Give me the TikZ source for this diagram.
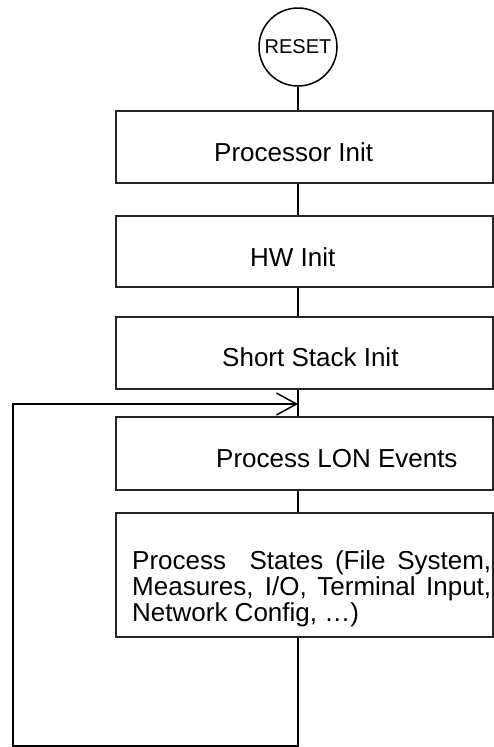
\documentclass[tikz,border=0pt]{standalone}
\usepackage{fontspec}
\setmainfont{Liberation Sans}
\usetikzlibrary{arrows.meta}
\begin{document}
\begin{tikzpicture}[x=1pt,y=-1pt,
  box/.style={draw=black!85, line width=1.2pt, rectangle, inner sep=0pt, minimum width=377pt},
  lbl/.style={anchor=base west, inner sep=0pt, font=\fontsize{26}{30}\selectfont},
  wire/.style={line width=1.5pt},
  barb/.style={-{Straight Barb[length=20pt,width=22pt,line width=1.5pt]}}]
\useasboundingbox (0,0) rectangle (494,747);

% start terminal
\node[draw, circle, line width=1.5pt, minimum size=78pt, inner sep=0pt,
      font=\fontsize{20}{24}\selectfont] (reset) at (298,47) {RESET};

% process boxes
\node[box, minimum height=72pt]  (proc)   at (304.5,147)   {};
\node[box, minimum height=71pt]  (hw)     at (304.5,251.5) {};
\node[box, minimum height=72pt]  (stack)  at (304.5,353)   {};
\node[box, minimum height=73pt]  (lon)    at (304.5,453.5) {};
\node[box, minimum height=124pt] (states) at (304.5,575)   {};

% box texts
\node[lbl] (tproc)  at (214,161) {Processor Init};
\node[lbl] (thw)    at (250,266) {HW Init};
\node[lbl] (tstack) at (222,366) {Short Stack Init};
\node[lbl] (tlon)   at (216,467) {Process LON Events};
\node[lbl] (ts1) at (132,569) {\makebox[359pt][s]{Process\ \ States (File System,}};
\node[lbl] (ts2) at (132,595) {\makebox[359pt][s]{Measures, I/O, Terminal Input,}};
\node[lbl] (ts3) at (132,621) {Network Config, …)};

% connectors
\coordinate (join) at (298,404);
\coordinate (br) at (298,746);
\coordinate (bl) at (13,746);
\draw[wire] (reset.south) -- (reset.south |- proc.north);
\draw[wire] (proc.south -| join) -- (hw.north -| join);
\draw[wire] (hw.south -| join) -- (stack.north -| join);
\draw[wire] (stack.south -| join) -- (lon.north -| join);
\draw[wire] (lon.south -| join) -- (states.north -| join);
\draw[wire, barb] (states.south -| join) -- (br) -- (bl) -- (bl |- join) -- (join);
\end{tikzpicture}
\end{document}
